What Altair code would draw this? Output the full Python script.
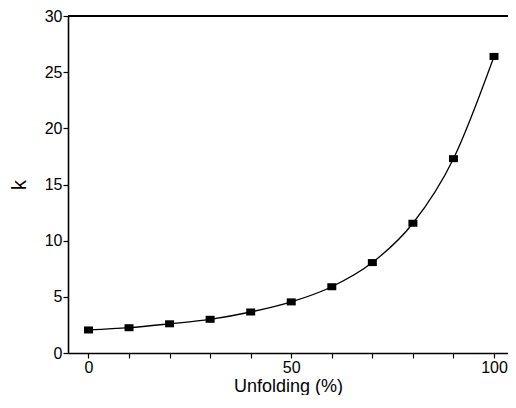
import altair as alt
import pandas as pd

unfolding = [0, 10, 20, 30, 40, 50, 60, 70, 80, 90, 100]
k_values = [2.05, 2.25, 2.6, 3.0, 3.65, 4.55, 5.9, 8.05, 11.55, 17.3, 26.4]
x_ticks = [0, 10, 20, 30, 40, 50, 60, 70, 80, 90, 100]
y_ticks = [0, 5, 10, 15, 20, 25, 30]

df = pd.DataFrame({"unfolding": unfolding, "k": k_values})

FONT = "Liberation Sans"

x_enc = alt.X(
    "unfolding:Q",
    scale=alt.Scale(domain=[-5.05, 103.45], nice=False, zero=False),
    axis=alt.Axis(
        title="Unfolding (%)",
        values=x_ticks,
        labelExpr="datum.value % 50 == 0 ? datum.label : ''",
        grid=False,
        tickSize=5,
        labelPadding=1,
        titlePadding=2,
        titleFontSize=18,
    ),
)
y_enc = alt.Y(
    "k:Q",
    scale=alt.Scale(domain=[0, 30], nice=False),
    axis=alt.Axis(
        title="k",
        values=y_ticks,
        grid=False,
        tickSize=5,
        labelPadding=1,
        titlePadding=15,
        titleFontSize=20,
    ),
)

line = alt.Chart(df).mark_line(
    color="black", strokeWidth=1.3, interpolate="monotone"
).encode(x=x_enc, y=y_enc)

pts = alt.Chart(df).mark_point(
    shape="M-1,-0.78L1,-0.78L1,0.78L-1,0.78Z",
    filled=True, color="black", size=81, opacity=1
).encode(x="unfolding:Q", y="k:Q")

top = alt.Chart(df).mark_rule(color="black", strokeWidth=1.5).encode(
    y=alt.datum(30)
)

chart = (
    alt.layer(top, line, pts)
    .properties(
        width=440,
        height=337,
        autosize=alt.AutoSizeParams(type="none"),
        padding={"left": 60, "top": 8, "right": 0, "bottom": 42},
    )
    .configure_view(stroke="#aaaaaa", strokeWidth=1)
    .configure_axis(
        domainColor="black",
        domainWidth=1.6,
        tickColor="black",
        tickWidth=1.2,
        labelFont=FONT,
        labelFontSize=16,
        labelColor="black",
        titleFont=FONT,
        titleFontWeight="normal",
        titleColor="black",
    )
)

chart.save("out.html", embed_options={"renderer": "svg", "actions": False})
